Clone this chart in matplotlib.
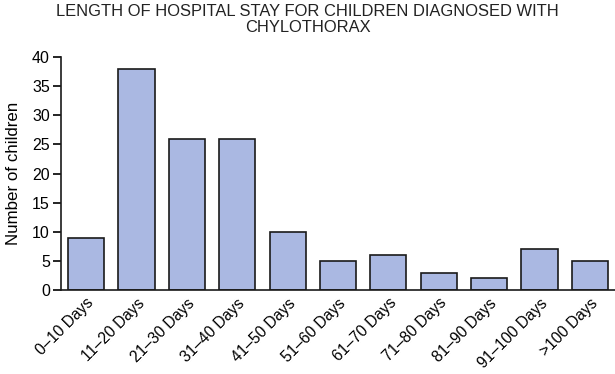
import matplotlib
matplotlib.use("Agg")
import matplotlib.pyplot as plt

categories = ["0–10 Days", "11–20 Days", "21–30 Days", "31–40 Days", "41–50 Days",
              "51–60 Days", "61–70 Days", "71–80 Days", "81–90 Days", "91–100 Days", ">100 Days"]
counts = [9, 38, 26, 26, 10, 5, 6, 3, 2, 7, 5]
yticks = [0, 5, 10, 15, 20, 25, 30, 35, 40]

plt.rcParams['font.family'] = ['Liberation Sans', 'DejaVu Sans']

fig = plt.figure(figsize=(6.15, 3.74), dpi=100)
ax = fig.add_axes([61/615, 1 - 290/374, 1 - 61/615, (290 - 57)/374])

x = range(len(categories))
ax.bar(x, counts, width=0.72, color="#aab8e2", edgecolor="#1a1a1a", linewidth=1.2)

ax.set_xlim(-0.5, len(categories) - 0.5)
ax.set_ylim(0, 40)
ax.set_yticks(yticks)
ax.set_xticks(list(x))
ax.set_xticklabels(categories, rotation=45, ha="right", rotation_mode="anchor", fontsize=11.2)
ax.tick_params(axis="x", length=0, pad=4)
ax.tick_params(axis="y", length=6, width=1.2, labelsize=11.5, pad=2, direction="out")
for s in ["top", "right"]:
    ax.spines[s].set_visible(False)
for s in ["left", "bottom"]:
    ax.spines[s].set_linewidth(1.2)
    ax.spines[s].set_color("#1a1a1a")
ax.set_ylabel("Number of children", fontsize=12.2)
ax.yaxis.set_label_coords(-0.072, 0.5)

fig.text(0.5, 0.99, "LENGTH OF HOSPITAL STAY FOR CHILDREN DIAGNOSED WITH\nCHYLOTHORAX",
         ha="center", va="top", fontsize=11.9, color="#222222", linespacing=1.1)

fig.savefig("out.png", dpi=100)
